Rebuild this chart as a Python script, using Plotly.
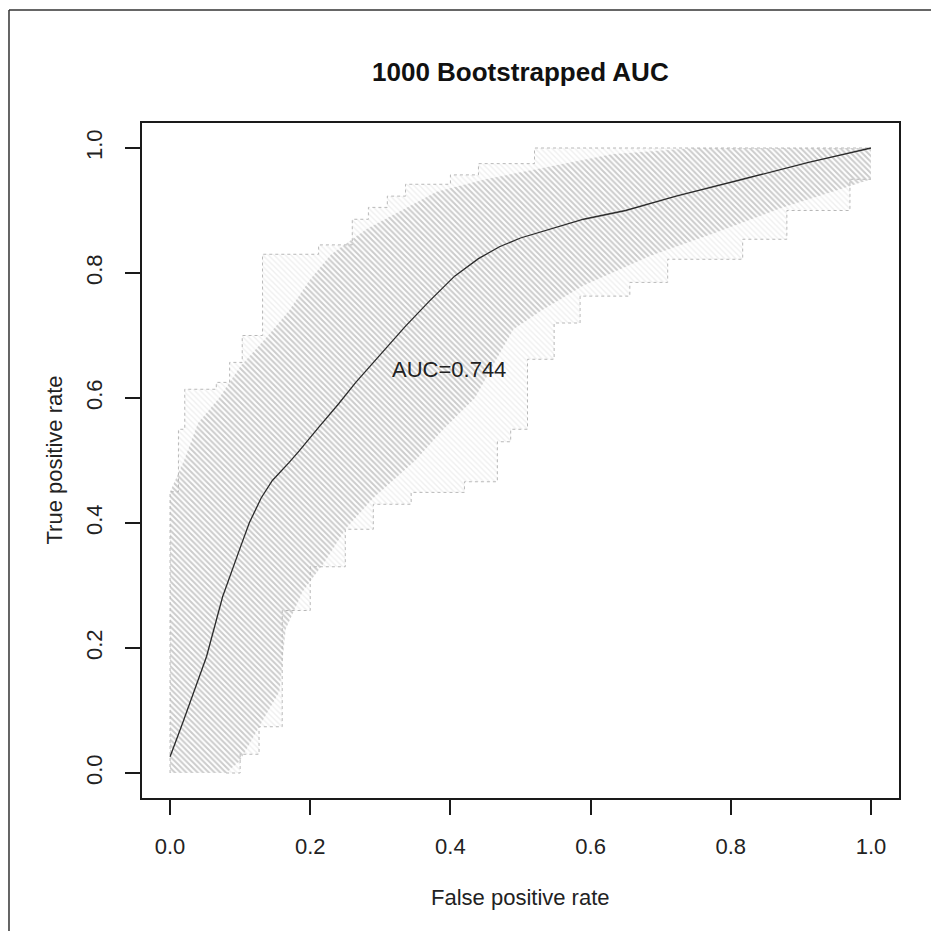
import plotly.graph_objects as go

# ---- data ----
roc_fpr = [0.0, 0.018, 0.052, 0.075, 0.099, 0.113, 0.13, 0.146, 0.17, 0.184, 0.212, 0.24, 0.265,
           0.30, 0.336, 0.37, 0.406, 0.44, 0.47, 0.50, 0.55, 0.59, 0.65, 0.722, 0.817, 0.911, 1.0]
roc_tpr = [0.026, 0.08, 0.186, 0.282, 0.357, 0.40, 0.44, 0.468, 0.497, 0.515, 0.553, 0.59, 0.625,
           0.67, 0.715, 0.755, 0.795, 0.823, 0.842, 0.856, 0.872, 0.886, 0.90, 0.923, 0.95, 0.977, 1.0]

band_upper_x = [0.0, 0.0, 0.02, 0.04, 0.07, 0.10, 0.14, 0.17, 0.20, 0.23, 0.28, 0.33, 0.38, 0.45,
                0.54, 0.63, 0.75, 1.0]
band_upper_y = [0.0, 0.45, 0.50, 0.56, 0.60, 0.65, 0.70, 0.74, 0.79, 0.83, 0.87, 0.90, 0.93, 0.95,
                0.97, 0.99, 1.0, 1.0]
band_lower_x = [0.0, 0.08, 0.10, 0.127, 0.156, 0.165, 0.189, 0.222, 0.25, 0.29, 0.35, 0.39, 0.435,
                0.463, 0.49, 0.53, 0.59, 0.684, 0.779, 0.874, 0.945, 1.0]
band_lower_y = [0.0, 0.0, 0.02, 0.074, 0.13, 0.23, 0.29, 0.34, 0.39, 0.44, 0.50, 0.55, 0.60,
                0.657, 0.71, 0.74, 0.78, 0.827, 0.865, 0.905, 0.93, 0.95]

outer_upper_x = [0.0, 0.0, 0.012, 0.012, 0.021, 0.021, 0.066, 0.066, 0.085, 0.085, 0.103, 0.103,
                 0.132, 0.132, 0.212, 0.212, 0.26, 0.26, 0.283, 0.283, 0.31, 0.31, 0.336, 0.336,
                 0.40, 0.40, 0.44, 0.44, 0.52, 0.52, 1.0]
outer_upper_y = [0.0, 0.45, 0.45, 0.55, 0.55, 0.614, 0.614, 0.625, 0.625, 0.657, 0.657, 0.70,
                 0.70, 0.83, 0.83, 0.845, 0.845, 0.886, 0.886, 0.905, 0.905, 0.923, 0.923, 0.942,
                 0.942, 0.957, 0.957, 0.975, 0.975, 1.0, 1.0]
outer_lower_x = [0.08, 0.10, 0.10, 0.127, 0.127, 0.16, 0.16, 0.20, 0.20, 0.25, 0.25, 0.29, 0.29,
                 0.344, 0.344, 0.42, 0.42, 0.467, 0.467, 0.486, 0.486, 0.51, 0.51, 0.548, 0.548,
                 0.585, 0.585, 0.656, 0.656, 0.71, 0.71, 0.817, 0.817, 0.88, 0.88, 0.97, 0.97, 1.0]
outer_lower_y = [0.0, 0.0, 0.03, 0.03, 0.074, 0.074, 0.26, 0.26, 0.33, 0.33, 0.39, 0.39, 0.43,
                 0.43, 0.449, 0.449, 0.466, 0.466, 0.53, 0.53, 0.55, 0.55, 0.662, 0.662, 0.72,
                 0.72, 0.763, 0.763, 0.785, 0.785, 0.822, 0.822, 0.854, 0.854, 0.90, 0.90, 0.95, 0.95]

tick_vals = [0.0, 0.2, 0.4, 0.6, 0.8, 1.0]
tick_text = ["0.0", "0.2", "0.4", "0.6", "0.8", "1.0"]
auc_label = "AUC=0.744"

FONT = "Liberation Sans, Arial, sans-serif"

fig = go.Figure()

# light outer spread
fig.add_trace(go.Scatter(
    x=outer_upper_x + outer_lower_x[::-1] + [0.0],
    y=outer_upper_y + outer_lower_y[::-1] + [0.0],
    mode="none", fill="toself", fillcolor="rgba(0,0,0,0)",
    fillpattern=dict(shape="\\", size=4, solidity=0.35, fgcolor="#e0e0e0", bgcolor="white"),
    hoverinfo="skip", showlegend=False))

# dense bootstrapped band
fig.add_trace(go.Scatter(
    x=band_upper_x + band_lower_x[::-1],
    y=band_upper_y + band_lower_y[::-1],
    mode="none", fill="toself", fillcolor="rgba(0,0,0,0)",
    fillpattern=dict(shape="\\", size=4, solidity=0.5, fgcolor="#999999", bgcolor="white"),
    hoverinfo="skip", showlegend=False))

for xs, ys in [(outer_upper_x, outer_upper_y), (outer_lower_x, outer_lower_y)]:
    fig.add_trace(go.Scatter(x=xs, y=ys, mode="lines",
                             line=dict(color="#b8b8b8", width=1, dash="3px,3px"),
                             hoverinfo="skip", showlegend=False))

fig.add_trace(go.Scatter(x=roc_fpr, y=roc_tpr, mode="lines",
                         line=dict(color="#2b2b2b", width=1.3),
                         hoverinfo="skip", showlegend=False))

axis_common = dict(range=[-0.04, 1.04], tickvals=tick_vals, ticktext=tick_text,
                   showgrid=False, zeroline=False, showline=True, mirror=True,
                   linecolor="#1a1a1a", linewidth=2, ticks="outside", ticklen=15,
                   tickwidth=2, tickcolor="#1a1a1a",
                   tickfont=dict(family=FONT, size=22, color="#222"))

fig.update_layout(
    width=939, height=931,
    margin=dict(l=134, r=48, t=115, b=141),
    paper_bgcolor="white", plot_bgcolor="white",
    xaxis=dict(**axis_common, ticklabelstandoff=13),
    yaxis=dict(**axis_common, tickangle=-90, ticklabelstandoff=14),
    annotations=[
        dict(text="<b>1000 Bootstrapped AUC</b>", xref="paper", yref="paper", x=0.5, y=1.0756,
             showarrow=False, xanchor="center", yanchor="middle",
             font=dict(family=FONT, size=26, color="#111")),
        dict(text="False positive rate", xref="paper", yref="paper", x=0.5, y=-0.1467,
             showarrow=False, xanchor="center", yanchor="middle",
             font=dict(family=FONT, size=22, color="#222")),
        dict(text="True positive rate", xref="paper", yref="paper", x=-0.1162, y=0.5,
             showarrow=False, xanchor="center", yanchor="middle", textangle=-90,
             font=dict(family=FONT, size=22, color="#222")),
        dict(text=auc_label, x=0.398, y=0.645, xref="x", yref="y", showarrow=False,
             xanchor="center", yanchor="middle",
             font=dict(family=FONT, size=22, color="#222")),
    ],
    shapes=[
        dict(type="line", xref="paper", yref="paper", x0=-0.1757, x1=1.08, y0=1.1674, y1=1.1674,
             line=dict(color="#333", width=1.5)),
        dict(type="line", xref="paper", yref="paper", x0=-0.1757, x1=-0.1757, y0=1.1674, y1=-0.25,
             line=dict(color="#333", width=1.5)),
    ],
)

fig.write_html("out.html")
